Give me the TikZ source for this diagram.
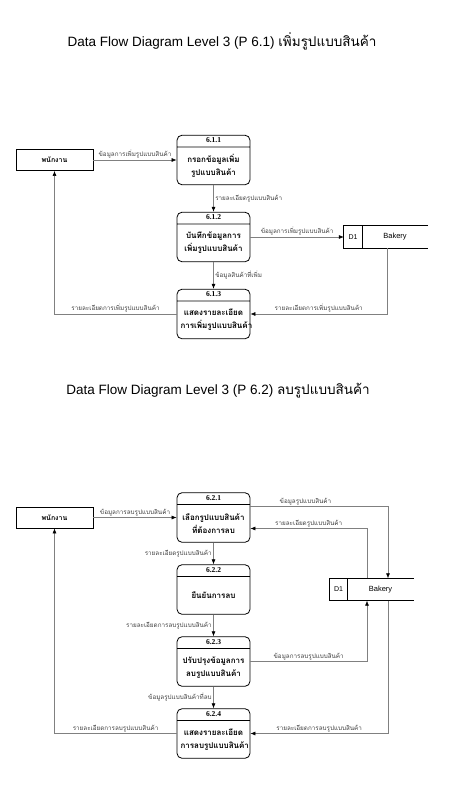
\documentclass[tikz,border=0pt]{standalone}
\usepackage{fontspec}
\setmainfont{Liberation Sans}
\newfontfamily\thaifont[Script=Thai]{Loma}
\newfontfamily\numfont{Liberation Serif}
\usetikzlibrary{shapes.multipart,arrows.meta}

\newcommand{\pnum}[1]{\rule[-2pt]{0pt}{6pt}{\numfont\bfseries\fontsize{7.5}{9}\selectfont #1}}
\newcommand{\ptext}[1]{\parbox[c][33pt][c]{66pt}{\centering #1}}

\tikzstyle{process} = [rectangle split, rectangle split parts=2, draw, line width=0.8pt, rounded corners=5pt, text width=66pt, align=center, inner xsep=3.5pt, inner ysep=2pt, font=\thaifont\bfseries\fontsize{8}{13}\selectfont]
\tikzstyle{agent} = [rectangle, draw, line width=0.8pt, minimum width=77pt, minimum height=21pt, font=\thaifont\bfseries\fontsize{7}{8}\selectfont]
\tikzstyle{store} = [rectangle, minimum width=66pt, minimum height=22pt, inner sep=0pt, font=\fontsize{7.5}{9}\selectfont]
\tikzstyle{storeid} = [rectangle, minimum width=18pt, minimum height=22pt, inner sep=0pt, font=\fontsize{7}{8}\selectfont]
\tikzstyle{line} = [draw, gray, line width=0.6pt, -{Latex[black,length=5pt,width=4pt]}]
\tikzstyle{flow} = [font=\thaifont\fontsize{6.3}{7}\selectfont, text=black!75, inner sep=1.5pt]
\tikzstyle{title} = [font=\fontsize{13.5}{16}\selectfont]

\begin{document}
\begin{tikzpicture}[x=1pt, y=-1pt, node distance=77pt]
  \useasboundingbox (0,0) rectangle (474,790);

  % P 6.1
  \node [title] (title1) at (222,41) {Data Flow Diagram Level 3 (P 6.1) {\thaifont เพิ่มรูปแบบสินค้า}};
  \node [agent] (staff1) at (54.5,160) {พนักงาน};
  \node [process] (p611) at (213.5,160) {\pnum{6.1.1}\nodepart{two}\ptext{กรอกข้อมูลเพิ่ม\\รูปแบบสินค้า}};
  \node [process, below of=p611] (p612) {\pnum{6.1.2}\nodepart{two}\ptext{บันทึกข้อมูลการ\\เพิ่มรูปแบบสินค้า}};
  \node [process, below of=p612] (p613) {\pnum{6.1.3}\nodepart{two}\ptext{แสดงรายละเอียด\\การเพิ่มรูปแบบสินค้า}};
  \node [store] (bakery1) at (395,237) {Bakery};
  \node [storeid, left of=bakery1, node distance=42pt] (d1a) {D1};
  \draw [line width=0.8pt] (bakery1.north east) -- (d1a.north west) -- (d1a.south west) -- (bakery1.south east);
  \draw [line width=0.8pt] (d1a.north east) -- (d1a.south east);

  \path [line] (staff1) -- node [flow, above] {ข้อมูลการเพิ่มรูปแบบสินค้า} (p611);
  \path [line] (p611) -- node [flow, right] {รายละเอียดรูปแบบสินค้า} (p612);
  \path [line] (p612) -- node [flow, above] {ข้อมูลการเพิ่มรูปแบบสินค้า} (d1a);
  \path [line] (p612) -- node [flow, right] {ข้อมูลสินค้าที่เพิ่ม} (p613);
  \path [line] ([xshift=-8pt]bakery1.south) |- node [flow, above, pos=0.75] {รายละเอียดการเพิ่มรูปแบบสินค้า} (p613);
  \path [line] (p613) -| node [flow, above, pos=0.25] {รายละเอียดการเพิ่มรูปแบบสินค้า} (staff1);

  % P 6.2
  \node [title] (title2) at (218,391) {Data Flow Diagram Level 3 (P 6.2) {\thaifont ลบรูปแบบสินค้า}};
  \node [agent] (staff2) at (54.5,517.5) {พนักงาน};
  \node [process] (p621) at (213.5,517.5) {\pnum{6.2.1}\nodepart{two}\ptext{เลือกรูปแบบสินค้า\\ที่ต้องการลบ}};
  \node [process, below of=p621, node distance=72pt] (p622) {\pnum{6.2.2}\nodepart{two}\ptext{ยืนยันการลบ}};
  \node [process, below of=p622, node distance=72pt] (p623) {\pnum{6.2.3}\nodepart{two}\ptext{ปรับปรุงข้อมูลการ\\ลบรูปแบบสินค้า}};
  \node [process, below of=p623, node distance=72pt] (p624) {\pnum{6.2.4}\nodepart{two}\ptext{แสดงรายละเอียด\\การลบรูปแบบสินค้า}};
  \node [store] (bakery2) at (380.5,589.5) {Bakery};
  \node [storeid, left of=bakery2, node distance=42pt] (d2a) {D1};
  \draw [line width=0.8pt] (bakery2.north east) -- (d2a.north west) -- (d2a.south west) -- (bakery2.south east);
  \draw [line width=0.8pt] (d2a.north east) -- (d2a.south east);

  \path [line] (staff2) -- node [flow, above] {ข้อมูลการลบรูปแบบสินค้า} (p621);
  \path [line] ([yshift=11pt]p621.east) -| node [flow, above, pos=0.2] {ข้อมูลรูปแบบสินค้า} ([xshift=7.5pt]bakery2.north);
  \path [line] ([xshift=-13.5pt]bakery2.north) |- node [flow, above, pos=0.75] {รายละเอียดรูปแบบสินค้า} ([yshift=-11pt]p621.east);
  \path [line] (p621) -- node [flow, left] {รายละเอียดรูปแบบสินค้า} (p622);
  \path [line] (p622) -- node [flow, left] {รายละเอียดการลบรูปแบบสินค้า} (p623);
  \path [line] (p623) -| node [flow, above, pos=0.25] {ข้อมูลการลบรูปแบบสินค้า} ([xshift=-13.5pt]bakery2.south);
  \path [line] (p623) -- node [flow, left] {ข้อมูลรูปแบบสินค้าที่ลบ} (p624);
  \path [line] ([xshift=7.5pt]bakery2.south) |- node [flow, above, pos=0.75] {รายละเอียดการลบรูปแบบสินค้า} (p624);
  \path [line] (p624) -| node [flow, above, pos=0.25] {รายละเอียดการลบรูปแบบสินค้า} (staff2);
\end{tikzpicture}
\end{document}
